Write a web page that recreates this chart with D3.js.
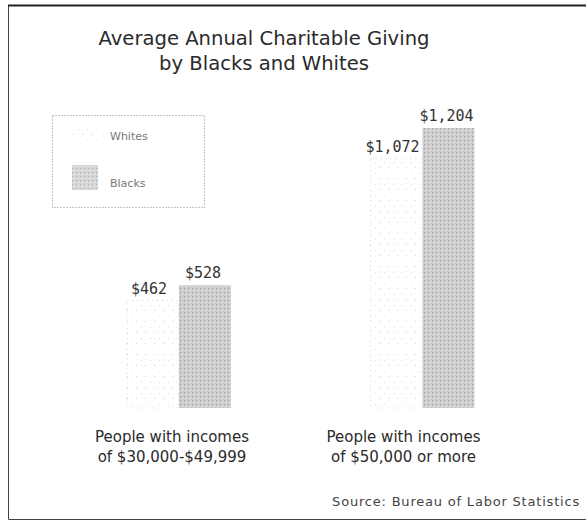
<!DOCTYPE html>
<html><head><meta charset="utf-8">
<script src="https://cdn.jsdelivr.net/npm/d3@7"></script>
<style>body{margin:0;background:#fff}svg{display:block}</style>
</head><body>
<script>
const categories = ["People with incomes|of $30,000-$49,999", "People with incomes|of $50,000 or more"];
const series = ["Whites", "Blacks"];
const whites = [462, 1072];
const blacks = [528, 1204];
const valueLabels = [["$462", "$1,072"], ["$528", "$1,204"]];
const title = ["Average Annual Charitable Giving", "by Blacks and Whites"];
const source = "Source: Bureau of Labor Statistics";

const W = 586, H = 527;
const svg = d3.select("body").append("svg").attr("width", W).attr("height", H);
const defs = svg.append("defs");
const pb = defs.append("pattern").attr("id","pb").attr("width",4).attr("height",4).attr("patternUnits","userSpaceOnUse");
pb.append("rect").attr("width",4).attr("height",4).attr("fill","#cdcdcd");
pb.append("rect").attr("x",0).attr("y",0).attr("width",1).attr("height",1).attr("fill","#9a9a9a");
pb.append("rect").attr("x",2).attr("y",2).attr("width",1).attr("height",1).attr("fill","#ececec");
const pw = defs.append("pattern").attr("id","pw").attr("width",9).attr("height",11).attr("patternUnits","userSpaceOnUse");
pw.append("rect").attr("width",9).attr("height",11).attr("fill","#ffffff");
pw.append("rect").attr("x",1).attr("y",2).attr("width",1).attr("height",1).attr("fill","#d0d0d0");
pw.append("rect").attr("x",6).attr("y",8).attr("width",1).attr("height",1).attr("fill","#e0e0e0");

// frame (top, left, bottom)
svg.append("path").attr("d","M586,5.5 H8.5 V519.5 H586")
  .attr("fill","none").attr("stroke","#444").attr("stroke-width",1);
svg.append("line").attr("x1",8).attr("x2",586).attr("y1",5.5).attr("y2",5.5).attr("stroke","#222").attr("stroke-width",2);

// title
svg.append("g").selectAll("text").data(title).join("text")
  .attr("x",264).attr("y",(d,i)=>45+i*25).attr("text-anchor","middle")
  .attr("font-family","DejaVu Sans, sans-serif").attr("font-size",19.6).attr("fill","#2a2a2a").text(d=>d);

const base = 408;
const x = d3.scaleBand().domain(d3.range(categories.length)).range([57.25,544.25]).paddingInner(0.573).paddingOuter(0.2865);
const xs = d3.scaleBand().domain(series).range([0,x.bandwidth()]);
const y = d3.scaleLinear().domain([0,1204]).range([base,128]);

const data = [whites, blacks];
const g = svg.append("g");
series.forEach((s,si)=>{
  g.selectAll(".b"+si).data(data[si]).join("rect")
    .attr("x",(d,i)=>x(i)+xs(s)).attr("width",xs.bandwidth())
    .attr("y",d=>y(d)).attr("height",d=>base-y(d))
    .attr("fill", si===0 ? "url(#pw)" : "url(#pb)")
    .attr("stroke", si===0 ? "#d4d4d4" : "none").attr("stroke-dasharray","1,4").attr("stroke-width",1);
  g.selectAll(".l"+si).data(data[si]).join("text")
    .attr("x",(d,i)=>x(i)+xs(s)+xs.bandwidth()/2 + (si===0?-4:-2))
    .attr("y",d=>y(d)-7)
    .attr("text-anchor","middle").attr("font-family","DejaVu Sans Mono, monospace").attr("font-size",15)
    .attr("fill","#333").text((d,i)=>valueLabels[si][i]);
});

// category labels
const cl = svg.append("g").selectAll("text").data(categories).join("text")
  .attr("x",(d,i)=>x(i)+x.bandwidth()/2 - (i===0?7:19)).attr("y",442)
  .attr("text-anchor","middle").attr("font-family","DejaVu Sans, sans-serif").attr("font-size",15).attr("fill","#2a2a2a");
cl.selectAll("tspan").data(d=>d.split("|")).join("tspan")
  .attr("x",function(){return d3.select(this.parentNode).attr("x");}).attr("dy",(d,i)=>i?20:0).text(d=>d);

// legend
const lg = svg.append("g");
lg.append("rect").attr("x",52.5).attr("y",115.5).attr("width",152).attr("height",92)
  .attr("fill","none").attr("stroke","#888").attr("stroke-dasharray","1,2");
series.forEach((s,i)=>{
  lg.append("rect").attr("x",72).attr("y",i?165:124).attr("width",26).attr("height",i?25:18)
    .attr("fill", i? "url(#pb)" : "url(#pw)").attr("opacity", i?0.8:1);
  lg.append("text").attr("x",110).attr("y",i?187:140).attr("font-family","DejaVu Sans, sans-serif")
    .attr("font-size",11).attr("fill","#777").text(s);
});

svg.append("text").attr("x",580).attr("y",506).attr("text-anchor","end")
  .attr("font-family","DejaVu Sans, sans-serif").attr("font-size",13).attr("letter-spacing",0.8)
  .attr("fill","#444").text(source);
</script>
</body></html>
